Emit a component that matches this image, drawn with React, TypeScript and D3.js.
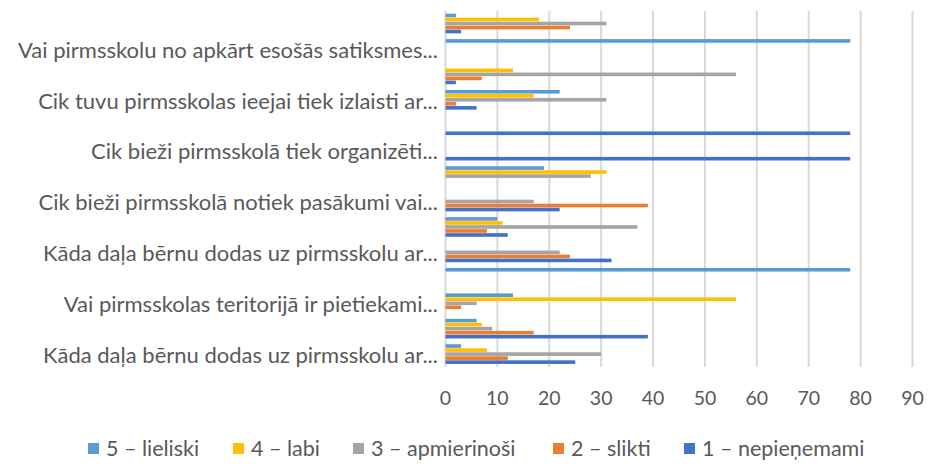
import React, { useEffect, useRef } from "react";
import * as d3 from "d3";

// categories top to bottom; only every second label is shown in the original chart
const categories = [
  "",
  "Vai pirmsskolu no apkārt esošās satiksmes...",
  "",
  "Cik tuvu pirmsskolas ieejai tiek izlaisti ar...",
  "",
  "Cik bieži pirmsskolā tiek organizēti...",
  "",
  "Cik bieži pirmsskolā notiek pasākumi vai...",
  "",
  "Kāda daļa bērnu dodas uz pirmsskolu ar...",
  "",
  "Vai pirmsskolas teritorijā ir pietiekami...",
  "",
  "Kāda daļa bērnu dodas uz pirmsskolu ar...",
];

const seriesNames = ["5 – lieliski", "4 – labi", "3 – apmierinoši", "2 – slikti", "1 – nepieņemami"];
const seriesColors = ["#5B9BD5", "#FFC000", "#A5A5A5", "#ED7D31", "#4472C4"];

const lieliski = [2, 78, 0, 22, 0, 0, 19, 0, 10, 0, 78, 13, 6, 3];
const labi = [18, 0, 13, 17, 0, 0, 31, 0, 11, 0, 0, 56, 7, 8];
const apmierinosi = [31, 0, 56, 31, 0, 0, 28, 17, 37, 22, 0, 6, 9, 30];
const slikti = [24, 0, 7, 2, 0, 0, 0, 39, 8, 24, 0, 3, 17, 12];
const nepienemami = [3, 0, 2, 6, 78, 78, 0, 22, 12, 32, 0, 0, 39, 25];

const xTicks = [0, 10, 20, 30, 40, 50, 60, 70, 80, 90];

const FONT = "Lato, 'Open Sans', sans-serif";
const TEXT = "#595959";

export default function App() {
  const ref = useRef<SVGSVGElement>(null);

  useEffect(() => {
    const svg = d3.select(ref.current);
    svg.selectAll("*").remove();

    const width = 931;
    const height = 464;
    const plot = { left: 445.5, right: 912.5, top: 11, bottom: 367 };

    const values = [lieliski, labi, apmierinosi, slikti, nepienemami];

    const x = d3.scaleLinear().domain([0, 90]).range([plot.left, plot.right]);

    const y = d3.scaleBand<number>()
      .domain(d3.range(categories.length))
      .range([plot.top, plot.bottom])
      .paddingInner(0.21)
      .paddingOuter(0.105);

    const ySub = d3.scaleBand<number>()
      .domain(d3.range(seriesNames.length))
      .range([0, y.bandwidth()]);

    svg.attr("width", width).attr("height", height);

    // gridlines
    svg.append("g")
      .selectAll("line")
      .data(xTicks)
      .join("line")
      .attr("x1", d => x(d))
      .attr("x2", d => x(d))
      .attr("y1", plot.top)
      .attr("y2", plot.bottom)
      .attr("stroke", "#d9d9d9")
      .attr("stroke-width", 2);

    // bars
    values.forEach((vals, s) => {
      svg.append("g")
        .selectAll("rect")
        .data(vals.map((v, i) => ({ v, i })).filter(d => d.v > 0))
        .join("rect")
        .attr("x", x(0))
        .attr("y", d => (y(d.i) as number) + (ySub(s) as number))
        .attr("width", d => x(d.v) - x(0))
        .attr("height", ySub.bandwidth() - 0.4)
        .attr("fill", seriesColors[s]);
    });

    // x tick labels
    svg.append("g")
      .selectAll("text")
      .data(xTicks)
      .join("text")
      .attr("x", d => x(d))
      .attr("y", 405)
      .attr("text-anchor", "middle")
      .attr("font-family", FONT)
      .attr("font-size", 19.5)
      .attr("fill", TEXT)
      .text(d => d);

    // category labels
    svg.append("g")
      .selectAll("text")
      .data(categories.map((c, i) => ({ c, i })).filter(d => d.c !== ""))
      .join("text")
      .attr("x", 438)
      .attr("y", d => (y(d.i) as number) + y.bandwidth() / 2 + 8.5)
      .attr("text-anchor", "end")
      .attr("font-family", FONT)
      .attr("font-size", 22)
      .attr("fill", TEXT)
      .text(d => d.c);

    // legend
    const legendX = [88, 233, 353, 553, 684];
    const legend = svg.append("g");
    seriesNames.forEach((name, s) => {
      legend.append("rect")
        .attr("x", legendX[s])
        .attr("y", 443)
        .attr("width", 11)
        .attr("height", 11)
        .attr("fill", seriesColors[s]);
      legend.append("text")
        .attr("x", legendX[s] + 18)
        .attr("y", 456)
        .attr("font-family", FONT)
        .attr("font-size", 21.5)
        .attr("fill", TEXT)
        .text(name);
    });
  }, []);

  return (
    <svg
      ref={ref}
      style={{ position: "absolute", left: 0, top: 0, display: "block", background: "#fff" }}
    />
  );
}
